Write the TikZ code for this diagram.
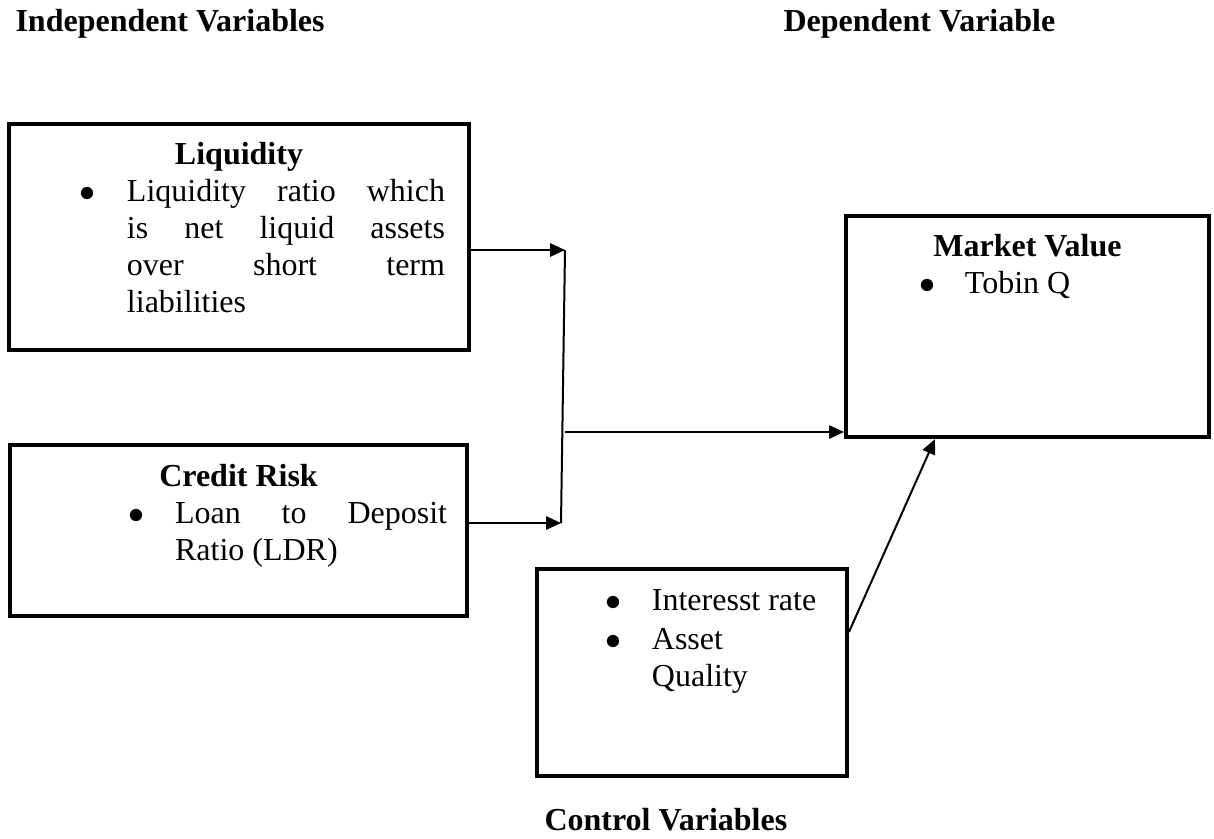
\documentclass[tikz,border=0pt]{standalone}
\usepackage{fontspec}
\setmainfont{Liberation Serif}
\usetikzlibrary{arrows.meta}
\newcommand{\bodysize}{\fontsize{12}{13.875}\selectfont}

\begin{document}
\begin{tikzpicture}[x=0.375pt, y=-0.375pt, font=\bodysize]
  \tikzset{
    varbox/.style={
      rectangle,
      draw,
      line width=1.5pt, % thick frame of the text boxes
      inner sep=0pt,
      anchor=north west,
    },
    heading/.style={inner sep=0pt, anchor=base west, font=\bodysize\bfseries},
    arr/.style={-{Triangle[length=5.6pt, width=5pt]}, line width=0.75pt},
  }
  \useasboundingbox (0,0) rectangle (1214,838);

  \node[heading] (indep) at (15,31) {Independent Variables};
  \node[heading] (dep) at (783,31) {Dependent Variable};
  \node[heading] (ctrlhead) at (544,830) {Control Variables};

  \node[varbox] (liq) at (7,122) {\parbox[c][84.75pt][t]{172.5pt}{%
    \rule{0pt}{15pt}\makebox[172.5pt]{\textbf{Liquidity}}\\
    \hspace*{26.6pt}\makebox[17.65pt][l]{$\bullet$}\makebox[119.25pt][s]{Liquidity ratio which}\\
    \hspace*{44.25pt}\makebox[119.25pt][s]{is net liquid assets}\\
    \hspace*{44.25pt}\makebox[119.25pt][s]{over short term}\\
    \hspace*{44.25pt}liabilities}};

  \node[varbox] (cred) at (8,443) {\parbox[c][64.1pt][t]{171.4pt}{%
    \rule{0pt}{15.4pt}\makebox[171.4pt]{\textbf{Credit Risk}}\\
    \hspace*{44.6pt}\makebox[17.3pt][l]{$\bullet$}\makebox[102pt][s]{Loan to Deposit}\\
    \hspace*{61.9pt}Ratio (LDR)}};

  \node[varbox] (mv) at (844,214) {\parbox[c][82.9pt][t]{136.1pt}{%
    \rule{0pt}{15pt}\makebox[136.1pt]{\textbf{Market Value}}\\
    \hspace*{27.4pt}\makebox[17.2pt][l]{$\bullet$}Tobin Q}};

  \node[varbox] (ctrl) at (535,567) {\parbox[c][77.6pt][t]{116.25pt}{%
    \rule{0pt}{15.4pt}\hspace*{25.5pt}\makebox[17.6pt][l]{$\bullet$}Interesst rate\\[1pt]
    \hspace*{25.5pt}\makebox[17.6pt][l]{$\bullet$}Asset\\
    \hspace*{43.1pt}Quality}};

  % joining line between the two independent variables
  \coordinate (jtop) at (565,250);
  \coordinate (jbot) at (561,523);
  \coordinate (jmid) at (565,432);

  \draw[arr] (liq.east |- jtop) -- (jtop);
  \draw[arr] (cred.east |- jbot) -- (jbot);
  \draw[line width=0.75pt] (jtop) -- (jbot);
  \draw[arr] (jmid) -- (mv.west |- jmid);
  \draw[arr] ([yshift=15.2pt]ctrl.east) -- ([xshift=34.1pt]mv.south west);
\end{tikzpicture}
\end{document}
